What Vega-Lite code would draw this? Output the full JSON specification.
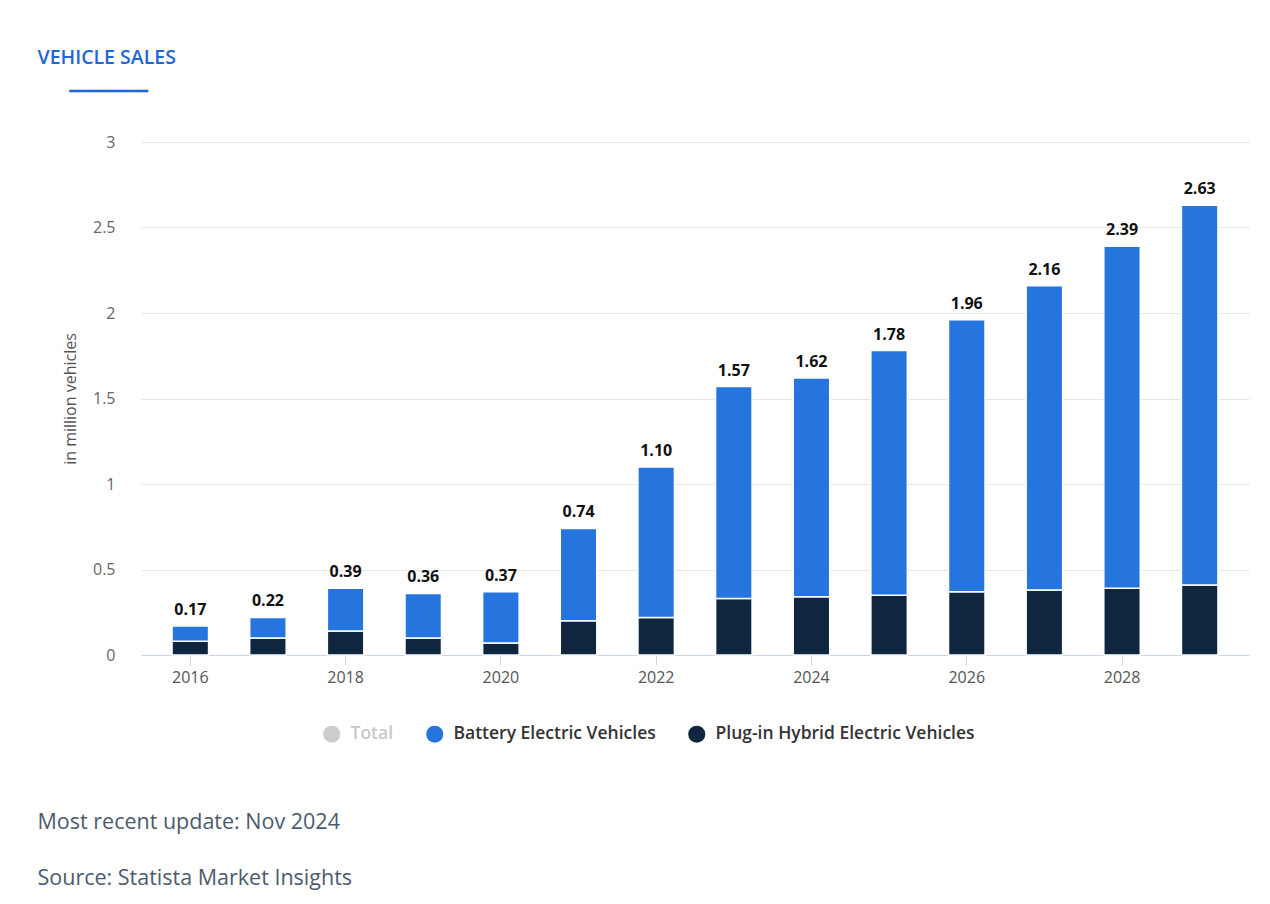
{
  "$schema": "https://vega.github.io/schema/vega-lite/v6.json",
  "background": "white",
  "autosize": {"type": "pad"},
  "padding": {"left": 37, "top": 48, "right": 22, "bottom": 10},
  "datasets": {
    "sales": [
      {"year": 2016, "series": "Plug-in Hybrid Electric Vehicles", "value": 0.08},
      {"year": 2016, "series": "Battery Electric Vehicles", "value": 0.09},
      {"year": 2017, "series": "Plug-in Hybrid Electric Vehicles", "value": 0.10},
      {"year": 2017, "series": "Battery Electric Vehicles", "value": 0.12},
      {"year": 2018, "series": "Plug-in Hybrid Electric Vehicles", "value": 0.14},
      {"year": 2018, "series": "Battery Electric Vehicles", "value": 0.25},
      {"year": 2019, "series": "Plug-in Hybrid Electric Vehicles", "value": 0.10},
      {"year": 2019, "series": "Battery Electric Vehicles", "value": 0.26},
      {"year": 2020, "series": "Plug-in Hybrid Electric Vehicles", "value": 0.07},
      {"year": 2020, "series": "Battery Electric Vehicles", "value": 0.30},
      {"year": 2021, "series": "Plug-in Hybrid Electric Vehicles", "value": 0.20},
      {"year": 2021, "series": "Battery Electric Vehicles", "value": 0.54},
      {"year": 2022, "series": "Plug-in Hybrid Electric Vehicles", "value": 0.22},
      {"year": 2022, "series": "Battery Electric Vehicles", "value": 0.88},
      {"year": 2023, "series": "Plug-in Hybrid Electric Vehicles", "value": 0.33},
      {"year": 2023, "series": "Battery Electric Vehicles", "value": 1.24},
      {"year": 2024, "series": "Plug-in Hybrid Electric Vehicles", "value": 0.34},
      {"year": 2024, "series": "Battery Electric Vehicles", "value": 1.28},
      {"year": 2025, "series": "Plug-in Hybrid Electric Vehicles", "value": 0.35},
      {"year": 2025, "series": "Battery Electric Vehicles", "value": 1.43},
      {"year": 2026, "series": "Plug-in Hybrid Electric Vehicles", "value": 0.37},
      {"year": 2026, "series": "Battery Electric Vehicles", "value": 1.59},
      {"year": 2027, "series": "Plug-in Hybrid Electric Vehicles", "value": 0.38},
      {"year": 2027, "series": "Battery Electric Vehicles", "value": 1.78},
      {"year": 2028, "series": "Plug-in Hybrid Electric Vehicles", "value": 0.39},
      {"year": 2028, "series": "Battery Electric Vehicles", "value": 2.00},
      {"year": 2029, "series": "Plug-in Hybrid Electric Vehicles", "value": 0.41},
      {"year": 2029, "series": "Battery Electric Vehicles", "value": 2.22}
    ],
    "totals": [
      {"year": 2016, "total": 0.17},
      {"year": 2017, "total": 0.22},
      {"year": 2018, "total": 0.39},
      {"year": 2019, "total": 0.36},
      {"year": 2020, "total": 0.37},
      {"year": 2021, "total": 0.74},
      {"year": 2022, "total": 1.10},
      {"year": 2023, "total": 1.57},
      {"year": 2024, "total": 1.62},
      {"year": 2025, "total": 1.78},
      {"year": 2026, "total": 1.96},
      {"year": 2027, "total": 2.16},
      {"year": 2028, "total": 2.39},
      {"year": 2029, "total": 2.63}
    ]
  },
  "title": {
    "text": ["Most recent update: Nov 2024", "Source: Statista Market Insights"],
    "orient": "bottom",
    "anchor": "start",
    "frame": "bounds",
    "font": "Open Sans",
    "fontSize": 21.5,
    "fontWeight": 400,
    "color": "#4b5b6d",
    "lineHeight": 56,
    "offset": 69
  },
  "config": {
    "view": {"stroke": null},
    "font": "Open Sans",
    "axis": {"labelFont": "Open Sans", "titleFont": "Open Sans"}
  },
  "vconcat": [
    {
      "width": 1108,
      "height": 513,
      "title": {
        "text": "VEHICLE SALES",
        "subtitle": "\u2800\u2800\u2800━━━━━━━━━",
        "anchor": "start",
        "frame": "bounds",
        "dx": -25,
        "font": "Open Sans",
        "fontSize": 19.5,
        "fontWeight": 600,
        "color": "#1f66d6",
        "subtitleColor": "#1f66d6",
        "subtitleFont": "DejaVu Sans",
        "subtitleFontSize": 14.5,
        "subtitlePadding": 16,
        "offset": 35
      },
      "layer": [
        {
          "data": {"name": "sales"},
          "mark": {"type": "bar", "stroke": "white", "strokeWidth": 1.5},
          "encoding": {
            "x": {
              "field": "year",
              "type": "ordinal",
              "scale": {"paddingInner": 0.53, "paddingOuter": 0.4},
              "axis": {
                "title": null,
                "values": [2016, 2018, 2020, 2022, 2024, 2026, 2028],
                "labelAngle": 0,
                "labelFontSize": 16,
                "labelColor": "#555555",
                "labelPadding": 4,
                "ticks": true,
                "tickSize": 10,
                "tickColor": "#ccd6eb",
                "domainColor": "#ccd6eb",
                "grid": false
              }
            },
            "y": {
              "field": "value",
              "type": "quantitative",
              "stack": "zero",
              "scale": {"domain": [0, 3], "nice": false},
              "axis": {
                "title": "in million vehicles",
                "titleFontSize": 16,
                "titleFontWeight": 400,
                "titleColor": "#555555",
                "titlePadding": 14,
                "values": [0, 0.5, 1, 1.5, 2, 2.5, 3],
                "format": "~g",
                "labelFontSize": 16,
                "labelColor": "#666666",
                "labelPadding": 26,
                "ticks": false,
                "domain": false,
                "gridColor": "#e6e6e6"
              }
            },
            "color": {
              "field": "series",
              "type": "nominal",
              "scale": {
                "domain": ["Total", "Battery Electric Vehicles", "Plug-in Hybrid Electric Vehicles"],
                "range": ["#cccccc", "#2675de", "#10263f"]
              },
              "legend": {
                "orient": "none",
                "legendX": 182,
                "legendY": 583,
                "direction": "horizontal",
                "title": null,
                "symbolType": "circle",
                "symbolSize": 289,
                "symbolStrokeWidth": 0,
                "labelFont": "Open Sans",
                "labelFontSize": 17.5,
                "labelFontWeight": 600,
                "labelLimit": 400,
                "labelOffset": 10,
                "columnPadding": 32,
                "labelColor": {"expr": "datum.value === 'Total' ? '#c8c8c8' : '#333333'"}
              }
            },
            "order": {"field": "series", "sort": "descending"}
          }
        },
        {
          "data": {"name": "totals"},
          "mark": {
            "type": "text",
            "baseline": "bottom",
            "dy": -8,
            "font": "Open Sans",
            "fontSize": 16,
            "fontWeight": 700,
            "color": "#111111"
          },
          "encoding": {
            "x": {"field": "year", "type": "ordinal"},
            "y": {"field": "total", "type": "quantitative"},
            "text": {"field": "total", "type": "quantitative", "format": ".2f"}
          }
        }
      ]
    }
  ]
}
